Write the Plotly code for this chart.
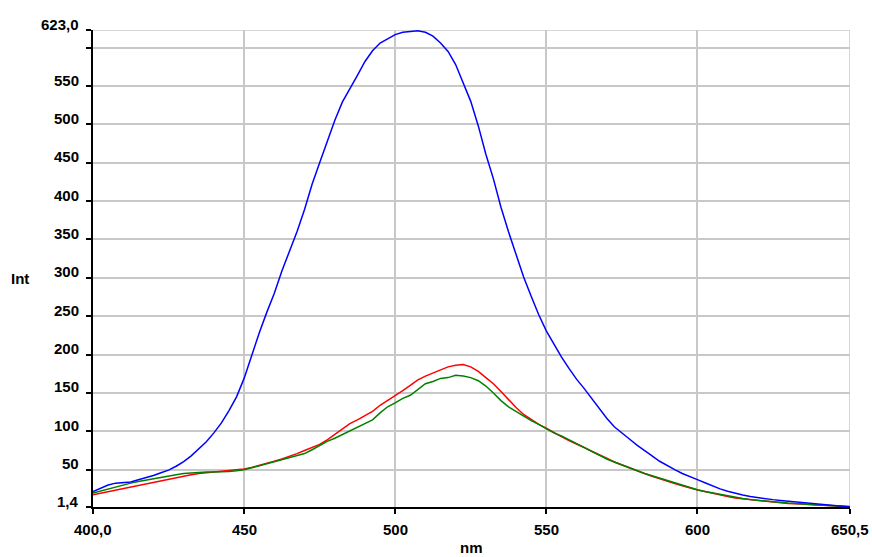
import plotly.graph_objects as go

# Emission spectra: wavelength (nm) vs intensity
wavelength = [400, 402.5, 405, 407.5, 410, 412.5, 415, 417.5, 420, 422.5,
              425, 427.5, 430, 432.5, 435, 437.5, 440, 442.5, 445, 447.5,
              450, 452.5, 455, 457.5, 460, 462.5, 465, 467.5, 470, 472.5,
              475, 477.5, 480, 482.5, 485, 487.5, 490, 492.5, 495, 497.5,
              500, 502.5, 505, 507.5, 510, 512.5, 515, 517.5, 520, 522.5,
              525, 527.5, 530, 532.5, 535, 537.5, 540, 542.5, 545, 547.5,
              550, 552.5, 555, 557.5, 560, 562.5, 565, 567.5, 570, 572.5,
              575, 577.5, 580, 582.5, 585, 587.5, 590, 592.5, 595, 597.5,
              600, 602.5, 605, 607.5, 610, 612.5, 615, 617.5, 620, 622.5,
              625, 627.5, 630, 632.5, 635, 637.5, 640, 642.5, 645, 647.5,
              650, 650.5]

int_blue = [21.5, 26, 30, 32.5, 33, 34, 37, 39.5, 42.5, 46,
            49.5, 54.5, 60.5, 68, 77, 86.5, 98, 111, 127, 145,
            169, 199, 228, 255, 280, 309, 334, 360, 389, 422,
            450, 478, 505, 529, 546, 564, 582, 596, 606, 612,
            617, 620, 621, 622, 620, 615, 606, 595, 578, 555,
            530, 498, 461, 429, 392, 360, 330, 301, 276, 252,
            231, 213, 197, 182, 168, 156, 143, 130, 117, 106,
            97.5, 90, 82, 75.5, 68, 61, 55, 50, 45, 40.5,
            37, 33, 28.5, 25, 22, 19, 17, 15, 13.5, 12,
            11, 10, 9, 8, 7, 6, 5, 4, 3.2, 2.4,
            1.6, 1.5]

int_red = [17.5, 19.5, 21.5, 24, 26, 28, 30, 32, 34, 36,
           38, 40, 42, 43.5, 45, 46, 47, 47.5, 48.5, 49.5,
           51, 53, 55.5, 58, 61, 64, 67, 71, 75, 79,
           83, 89, 96, 104, 110, 115, 120, 126, 134, 140,
           147, 153, 160, 167, 172, 176, 179, 184, 186, 187,
           184, 178, 170, 162, 152, 141, 131, 122, 115, 109,
           104, 98, 93, 88, 84, 79, 74, 70, 65, 60,
           56, 52, 48.5, 45, 41.5, 38, 35.5, 32, 29, 26,
           23.5, 21.5, 19, 17, 15, 13, 12, 11, 9.5, 8.5,
           7.5, 7, 6, 5.5, 5, 4.5, 4, 3.5, 3, 2.5,
           2, 1.8]

int_green = [19.5, 22, 25, 28, 30.5, 32.5, 34.5, 36.5, 38.5, 40.5,
             42, 43.5, 45, 46, 46.5, 47, 47, 47, 47.5, 48.5,
             50, 52.5, 55, 58, 61, 63.5, 65, 68, 71, 76,
             82, 87, 91, 96, 100, 105, 110, 115, 124, 132,
             137, 143, 147, 155, 162, 165, 169, 170, 173, 172,
             170, 166, 159, 150, 140, 132, 126, 119, 114, 109,
             103, 98, 94, 89, 84, 79, 73, 68, 64, 60,
             56, 52, 48.5, 45, 42, 39, 36, 32, 29, 26.5,
             24, 21.5, 19.5, 17.5, 15.5, 14, 12.5, 11, 10, 9,
             8, 7, 6.5, 6, 5, 4.5, 4, 3.5, 3, 2.5,
             2.3, 2]

x_ticks = [400, 450, 500, 550, 600, 650.5]
x_tick_text = ["400,0", "450", "500", "550", "600", "650,5"]
y_ticks = [1.4, 50, 100, 150, 200, 250, 300, 350, 400, 450, 500, 550, 600, 623]
y_tick_text = ["1,4", "50", "100", "150", "200", "250", "300", "350", "400",
               "450", "500", "550", "", "623,0"]

x_min, x_max = 400, 650.5
y_min, y_max = 1.4, 623

FONT = dict(family="Liberation Sans, Arial, sans-serif", size=15, color="black")
GRID = "#c8c8c8"

fig = go.Figure()
for vals, col in [(int_red, "#ff0000"), (int_green, "#008000"), (int_blue, "#0000ff")]:
    fig.add_trace(go.Scatter(x=wavelength, y=vals, mode="lines",
                             line=dict(color=col, width=1.5), showlegend=False))

fig.update_xaxes(range=[x_min, x_max], tickvals=x_ticks, showticklabels=False,
                 showgrid=True, gridcolor=GRID, gridwidth=1.5,
                 showline=True, linecolor="black", linewidth=2,
                 ticks="outside", ticklen=5, tickcolor="black", tickwidth=1.5,
                 zeroline=False)
fig.update_yaxes(range=[y_min, y_max], tickvals=y_ticks, showticklabels=False,
                 showgrid=True, gridcolor=GRID, gridwidth=1.5,
                 showline=True, linecolor="black", linewidth=2,
                 ticks="outside", ticklen=5, tickcolor="black", tickwidth=1.5,
                 zeroline=False)

# frame edges drawn as grid-coloured lines (top and right)
fig.add_shape(type="line", xref="x", yref="y", x0=x_max, x1=x_max, y0=y_min, y1=y_max,
              line=dict(color=GRID, width=1.5), layer="below")
fig.add_shape(type="line", xref="x", yref="y", x0=x_min, x1=x_max, y0=y_max, y1=y_max,
              line=dict(color=GRID, width=1.5), layer="below")

annotations = []
for v, t in zip(y_ticks, y_tick_text):
    if t:
        annotations.append(dict(x=0, xref="paper", y=v, yref="y", text="<b>%s</b>" % t,
                                xanchor="right", yanchor="middle", xshift=-12, yshift=6,
                                showarrow=False, font=FONT))
for v, t in zip(x_ticks, x_tick_text):
    annotations.append(dict(x=v, xref="x", y=0, yref="paper", text="<b>%s</b>" % t,
                            xanchor="center", yanchor="middle", yshift=-22,
                            showarrow=False, font=FONT))
annotations.append(dict(x=0.5, xref="paper", y=0, yref="paper", text="<b>nm</b>",
                        xanchor="center", yanchor="middle", yshift=-40,
                        showarrow=False, font=FONT))
annotations.append(dict(x=0, xref="paper", y=0.48, yref="paper", text="<b>Int</b>",
                        xanchor="center", yanchor="middle", xshift=-73,
                        showarrow=False, font=FONT))

fig.update_layout(width=872, height=557, margin=dict(l=93, r=22, t=30, b=50),
                  paper_bgcolor="white", plot_bgcolor="white",
                  annotations=annotations)

fig.write_html("out.html")
